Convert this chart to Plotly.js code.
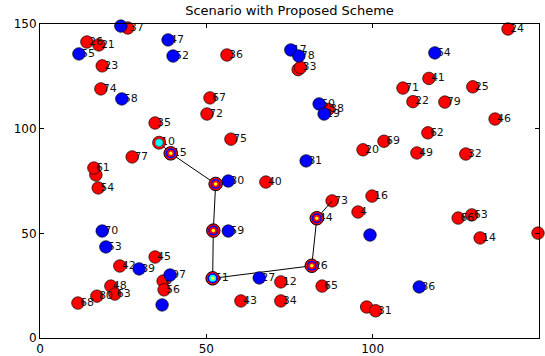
<!DOCTYPE html>
<html><head><meta charset="utf-8">
<script src="https://cdn.plot.ly/plotly-3.0.1.min.js"></script>
<style>html,body{margin:0;padding:0;background:#fff}#chart{width:545px;height:356px}</style>
</head><body><div id="chart"></div>
<script>
// Ordinary sensor nodes (red)
const redX = [26.4,14.1,17.7,18.7,18.3,34.6,56.2,77.6,78.3,51.1,50.2,86.6,140.7,116.9,109.1,112.1,121.7,130.1,136.8,27.7,16.8,16.2,17.5,57.4,67.9,87.8,95.6,116.6,103.4,97.1,113.3,128.0,99.8,125.7,129.8,132.3,149.7,98.2,100.9,24.0,34.6,37.0,37.3,21.3,17.1,22.5,11.4,72.4,84.8,60.4,72.4];
const redY = [148.1,141.4,140.0,130.0,119.0,102.7,135.2,128.2,129.2,114.7,107.0,109.2,147.6,124.0,119.4,112.9,112.7,120.0,104.6,86.5,77.9,81.2,71.7,95.0,74.5,65.5,60.2,98.0,94.0,89.9,88.4,87.9,67.8,57.3,58.8,47.8,50.1,14.8,13.0,34.4,38.7,27.2,23.0,24.8,20.0,21.0,16.7,26.8,24.8,17.7,17.7];
const redLbl = ["37","26","21","23","74","35","36","","33","67","72","38","24","41","71","22","79","25","46","77","","61","54","75","40","73","4","62","69","20","49","32","16","66","63","14","","","31","42","45","6","56","48","80","63","68","12","65","43","34"];
// Cluster-head nodes (blue)
const blueX = [24.3,11.7,38.5,40.0,24.6,75.4,77.8,83.9,85.4,118.7,80.0,56.6,56.6,65.9,99.2,114.0,18.7,19.8,29.8,39.1,36.7];
const blueY = [149.0,135.7,142.4,134.7,114.2,137.6,134.7,111.8,107.0,136.2,84.6,75.0,51.1,28.7,49.2,24.4,51.1,43.5,33.0,30.1,15.8];
const blueLbl = ["","55","47","52","58","17","78","60","19","64","81","30","59","27","","86","70","53","39","97",""];
// Route selected by the proposed scheme (source -> relays -> destination)
const routeX = [35.8,39.3,52.8,52.1,51.9,81.7,83.2,87.8];
const routeY = [93.3,88.2,73.6,51.3,28.5,34.5,57.2,65.5];
const routeLbl = ["10","15","","","51","26","44",""];
const sinkIndex = 4;

const labelDx = 0.6;
const allX = redX.concat(blueX, routeX.slice(0,7)).map(v => v + labelDx);
const allY = redY.concat(blueY, routeY.slice(0,7));
const allLbl = redLbl.concat(blueLbl, routeLbl.slice(0,7));

const edge = {color:'#000', width:0.7};
const traces = [];
traces.push({x:redX, y:redY, mode:'markers', type:'scatter', cliponaxis:false,
  marker:{size:12.5, color:'#ff0000', line:edge}, hoverinfo:'skip'});
traces.push({x:routeX, y:routeY, mode:'lines', type:'scatter',
  line:{color:'#000', width:1}, hoverinfo:'skip'});
traces.push({x:allX, y:allY, text:allLbl, mode:'text', type:'scatter', textposition:'middle right',
  textfont:{family:'DejaVu Sans', size:11, color:'#111'}, hoverinfo:'skip'});
traces.push({x:blueX, y:blueY, mode:'markers', type:'scatter', cliponaxis:false,
  marker:{size:12.5, color:'#0000ff', line:edge}, hoverinfo:'skip'});

const relX = routeX.slice(1,7), relY = routeY.slice(1,7);
// source node: red rim, cyan centre
traces.push({x:[routeX[0]], y:[routeY[0]], mode:'markers', type:'scatter',
  marker:{size:13, color:'#ff0000', line:edge}, hoverinfo:'skip'});
traces.push({x:[routeX[0]], y:[routeY[0]], mode:'markers', type:'scatter',
  marker:{size:8, color:'#00ffff', line:{color:'#333', width:0.5}}, hoverinfo:'skip'});
// relay rings
traces.push({x:relX, y:relY, mode:'markers', type:'scatter',
  marker:{size:13.5, color:'#ff0000', line:{color:'#000', width:1}}, hoverinfo:'skip'});
traces.push({x:relX, y:relY, mode:'markers', type:'scatter',
  marker:{size:10, color:'#0000ff', line:{width:0}}, hoverinfo:'skip'});
traces.push({x:relX, y:relY, mode:'markers', type:'scatter',
  marker:{size:7, color:relX.map((v,i)=> i+1===sinkIndex ? '#00ffff' : '#ff0000'), line:{width:0}}, hoverinfo:'skip'});
traces.push({x:relX, y:relY, mode:'markers', type:'scatter',
  marker:{size:3.5, color:'#ffff00', line:{width:0}}, hoverinfo:'skip'});

const axisCommon = {range:[0,150], autorange:false, showgrid:false, zeroline:false,
  showline:true, linecolor:'#000', linewidth:1, mirror:'ticks', ticks:'inside', ticklen:4,
  tickcolor:'#000', tickvals:[0,50,100,150], tickfont:{family:'DejaVu Sans', size:12, color:'#000'}};

const layout = {
  width:545, height:356, margin:{l:40, r:6, t:24, b:18},
  paper_bgcolor:'#fff', plot_bgcolor:'#fff', showlegend:false,
  title:{text:'Scenario with Proposed Scheme', font:{family:'DejaVu Sans', size:13, color:'#000'},
    xref:'paper', x:0.5, xanchor:'center', yref:'container', y:1-10/356, yanchor:'middle'},
  xaxis:Object.assign({}, axisCommon),
  yaxis:Object.assign({}, axisCommon)
};
Plotly.newPlot('chart', traces, layout, {staticPlot:true});
</script></body></html>
